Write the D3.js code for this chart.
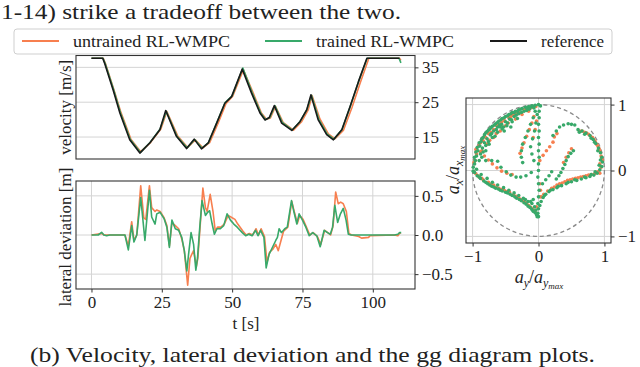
<!DOCTYPE html>
<html>
<head>
<meta charset="utf-8">
<script src="https://cdn.jsdelivr.net/npm/d3@7"></script>
<style>
  body { margin: 0; background: #fff; }
  text { font-family: "Liberation Serif", "DejaVu Serif", serif; fill: #222; }
</style>
</head>
<body>
<svg id="fig" width="640" height="367"></svg>
<script>
// ---- DATA ----
// velocity [m/s] over time [s], as [t, v]
const velReference = [[0,37.6],[4,37.6],[4.7,36.1],[7.7,28.5],[10.1,21.9],[13.6,14.2],[17.2,10.4],[20.7,13.3],[24.3,17.1],[26.4,22.6],[30.2,15.2],[33.8,11.7],[36.5,14.4],[39.1,11.6],[41.5,13.3],[44.5,19],[47.4,24.7],[49.8,26.6],[53.6,34.5],[56.9,27.6],[59.9,21.9],[61.7,19.9],[63.2,20.6],[65,24],[67.6,19],[71.2,16.9],[74.1,19.4],[76.5,22.8],[78,27.1],[80.6,19.9],[83.6,15.7],[86,14.2],[89,17.1],[91.9,23.7],[94.9,30.9],[97.9,37.6],[109.5,37.6]];
const velTrained = [[0,37.6],[4.1,37.6],[4.9,36],[7.9,28.5],[10.3,22],[13.8,14.3],[17.4,10.6],[20.9,13.5],[24.4,17.3],[26.6,22.4],[30.4,15.2],[34,11.9],[36.7,14.3],[39.3,11.8],[41.6,13.4],[44.6,19.2],[47.5,24.9],[50,26.8],[53.8,34.8],[57.1,27.8],[60.1,22],[61.9,20],[63.4,20.6],[65.2,24],[67.8,19.2],[71.4,17],[74.2,19.5],[76.6,22.9],[78.2,27],[80.8,20.1],[83.8,15.8],[86.2,14.4],[89.1,17.2],[92,23.8],[95,31],[98,37.6],[109.3,37.6],[110,36.3]];
const velUntrained = [[0,37.6],[4.2,37.6],[5,36],[8,28.5],[10.5,22],[14,14.4],[17.5,10.8],[21,13.4],[24.6,17.2],[26.8,22.3],[30.6,15.4],[34.2,12],[36.9,14.2],[39.6,11.9],[42,13.4],[45,19],[47.8,24.6],[50.2,26.7],[54,34.3],[57.5,27.6],[60.4,21.9],[62.2,20.1],[63.6,20.5],[65.4,23.8],[68.2,19.1],[71.8,17],[74.6,19.3],[77,22.7],[78.4,26.9],[81.2,20.2],[84.2,15.9],[86.6,14.5],[89.6,17],[92.6,23.5],[95.6,30.7],[98.6,37.6],[109.5,37.6],[110,37]];

// lateral deviation [m] over time [s], as [t, d]
const latTrained = [[0,0],[2.4,0],[3.6,0.034],[4.4,0],[5.4,-0.01],[6.5,0],[11.9,0],[13.1,-0.19],[14.3,0.12],[15.1,-0.09],[16.1,0],[17.5,0.48],[19,-0.07],[20.6,0.57],[21.4,0.23],[22.6,0.14],[23.2,0.27],[24.4,0.29],[25.8,0.21],[26.8,0.1],[27.7,-0.16],[28.6,0.19],[29.8,0.08],[31,0.06],[32.1,-0.03],[33,-0.2],[33.9,-0.46],[34.5,-0.25],[35.4,0.03],[36.3,-0.12],[37.1,-0.45],[37.7,-0.29],[38.5,0.1],[39.3,0.44],[40.5,0.25],[41.3,0.29],[42,0.31],[42.9,0.14],[43.7,0.01],[44.6,0.08],[45.8,0.08],[47,0.12],[48.2,0.27],[49.4,0.19],[50.6,0.14],[51.8,0.1],[53.6,0.03],[54.8,-0.01],[55.9,0.01],[57.1,-0.01],[58.3,0.06],[59.2,-0.01],[60.1,0.06],[61.3,-0.03],[62.1,-0.42],[63.1,-0.25],[64.3,-0.16],[65.5,-0.07],[66.1,-0.03],[66.7,0.08],[67.5,0.03],[68.7,0.08],[69.6,0.1],[71.1,0.44],[72,0.29],[73,0.14],[73.8,0.27],[75,0.19],[76.2,0.1],[77.4,-0.01],[78.6,0.03],[80.1,-0.01],[81.3,-0.15],[82.7,0.06],[83.9,0.03],[84.9,0.01],[85.7,0.1],[86.5,0.38],[87.5,0.16],[88.5,0.27],[89.5,0.34],[90.5,0.19],[91.3,0.01],[92.3,0],[95.8,0],[98.2,0],[107.7,0],[108.9,0.01],[109.5,0.03],[110.1,0.03]];
const latUntrained = [[0,0],[3.6,0.02],[4.5,0],[11.9,0],[13.1,-0.14],[14.3,0.17],[15.1,-0.07],[16.1,0],[17.5,0.63],[18.6,0.22],[19.3,0.2],[20.6,0.63],[21.4,0.35],[22.6,0.3],[23.2,0.32],[24.4,0.3],[25.8,0.22],[26.8,0.12],[27.7,-0.14],[28.6,0.16],[29.8,0.12],[31,0.08],[32.1,-0.05],[33,-0.2],[34.2,-0.64],[35,-0.3],[35.6,-0.25],[36.3,-0.2],[37.3,-0.4],[37.8,-0.3],[38.6,0.1],[39.6,0.6],[40.5,0.35],[41.1,0.3],[42.2,0.52],[43.2,0.3],[44,0.05],[44.8,0.1],[46,0.1],[47.2,0.14],[48.6,0.25],[50,0.22],[51,0.2],[52,0.14],[53.8,0.05],[55,0],[56.1,0.02],[57.3,0],[58.5,0.08],[59.4,0],[60.3,0.08],[61.5,-0.02],[62.4,-0.35],[63.3,-0.22],[64.5,-0.18],[65.5,-0.12],[66.4,-0.2],[67.3,-0.08],[68.3,0.05],[69.8,0.1],[71.2,0.43],[72.2,0.28],[73.2,0.15],[74,0.25],[75.2,0.2],[76.4,0.1],[77.6,0],[78.8,0.03],[80.3,-0.02],[81.5,-0.12],[82.9,0.06],[84,0.03],[85,0],[85.9,0.12],[86.8,0.55],[87.7,0.4],[88.6,0.42],[89.5,0.4],[90.6,0.3],[91.5,0.02],[92.5,0],[95,-0.02],[96,-0.04],[98.5,-0.03],[99,-0.01],[107.7,0],[108.9,-0.01],[109.5,0.02],[110,0.03]];

// gg diagram points, as [ay/aymax, ax/axmax]
const ggUntrained = [[-0.96,0.15],[-0.94,0.25],[-0.9,0.38],[-0.84,0.45],[-0.8,0.5],[-0.76,0.56],[-0.68,0.62],[-0.6,0.7],[-0.52,0.76],[-0.45,0.8],[-0.38,0.84],[-0.3,0.88],[-0.22,0.92],[-0.12,0.95],[-0.04,0.97],[-0.86,0.3],[-0.74,0.46],[-0.64,0.56],[-0.55,0.66],[-0.46,0.72],[-0.35,0.78],[-0.25,0.85],[-0.15,0.9],
  [-0.98,0.12],[-0.95,0.32],[-0.88,0.42],[-0.82,0.52],[-0.72,0.58],[-0.64,0.68],[-0.56,0.73],[-0.42,0.82],[-0.33,0.86],[-0.18,0.93],[-0.08,0.96],[-0.78,0.4],[-0.68,0.5],[-0.58,0.6],[-0.5,0.68],
  [-0.07,0.82],[-0.1,0.72],[-0.14,0.62],[-0.18,0.52],[-0.22,0.42],[-0.25,0.34],[-0.28,0.26],[-0.03,0.75],[-0.05,0.62],[-0.08,0.5],
  [-0.88,0.28],[-0.82,0.22],[-0.76,0.16],[-0.7,0.1],[-0.63,0.04],[-0.56,-0.01],[-0.48,-0.04],[-0.4,-0.06],
  [-0.95,-0.05],[-0.9,-0.1],[-0.84,-0.14],[-0.76,-0.18],[-0.68,-0.22],[-0.6,-0.27],[-0.52,-0.3],[-0.44,-0.33],[-0.38,-0.37],[-0.3,-0.41],[-0.24,-0.46],[-0.18,-0.5],[-0.12,-0.56],[-0.07,-0.6],[-0.03,-0.55],
  [-0.98,-0.02],[-0.92,-0.08],[-0.86,-0.12],[-0.72,-0.21],[-0.64,-0.25],[-0.56,-0.29],[-0.48,-0.32],[-0.34,-0.39],[-0.27,-0.44],[-0.21,-0.48],[-0.15,-0.53],[-0.1,-0.58],[-0.05,-0.63],
  [0.02,0.15],[0.07,0.23],[0.12,0.3],[0.17,0.36],[0.22,0.43],[0.24,0.51],[0.28,0.56],
  [0.62,0.6],[0.7,0.58],[0.76,0.55],[0.82,0.5],[0.86,0.44],[0.9,0.37],[0.93,0.3],[0.95,0.22],[0.97,0.15],[0.95,0.05],[0.9,-0.02],
  [0.66,0.6],[0.73,0.57],[0.79,0.52],[0.84,0.47],[0.88,0.4],[0.92,0.33],[0.96,0.18],[0.93,0.1],[0.93,-0.04],
  [0.85,-0.05],[0.76,-0.07],[0.68,-0.09],[0.6,-0.11],[0.52,-0.13],[0.44,-0.15],[0.36,-0.19],[0.28,-0.22],[0.2,-0.27],[0.14,-0.31],[0.08,-0.36],[0.04,-0.4],
  [0.8,-0.06],[0.72,-0.08],[0.64,-0.1],[0.56,-0.12],[0.48,-0.14],[0.4,-0.17],[0.32,-0.2],[0.24,-0.25],
  [0.5,0.33],[0.46,0.27],[0.42,0.2],[0.38,0.12],[0.02,-0.2],[0.03,-0.3],[0.02,-0.4]];
const ggTrained = [[-0.97,0.1],[-0.97,0.2],[-0.95,0.28],[-0.93,0.35],[-0.9,0.42],[-0.86,0.48],[-0.82,0.54],[-0.78,0.59],[-0.74,0.63],[-0.7,0.67],[-0.65,0.71],[-0.6,0.75],[-0.55,0.79],[-0.5,0.82],[-0.45,0.85],[-0.4,0.88],[-0.35,0.9],[-0.3,0.92],[-0.25,0.94],[-0.2,0.96],[-0.15,0.97],[-0.1,0.98],[-0.05,0.99],[0,1.0],[0.03,0.98],
  [-0.99,0.05],[-0.96,0.15],[-0.94,0.22],[-0.92,0.3],[-0.89,0.37],[-0.87,0.44],[-0.84,0.5],[-0.8,0.57],[-0.76,0.61],[-0.72,0.65],[-0.67,0.69],[-0.62,0.73],[-0.57,0.77],[-0.52,0.8],[-0.47,0.83],[-0.42,0.86],[-0.37,0.88],[-0.32,0.9],[-0.27,0.93],[-0.17,0.95],[-0.12,0.96],[-0.08,0.97],
  [-0.9,0.15],[-0.88,0.25],[-0.85,0.34],[-0.82,0.42],[-0.78,0.48],[-0.73,0.54],[-0.68,0.6],[-0.62,0.66],[-0.56,0.7],[-0.5,0.74],[-0.44,0.78],[-0.37,0.82],[-0.3,0.86],[-0.22,0.9],[-0.14,0.93],[-0.07,0.95],
  [-0.86,0.2],[-0.84,0.28],[-0.8,0.38],[-0.76,0.44],[-0.71,0.56],[-0.64,0.62],[-0.59,0.69],[-0.53,0.66],[-0.47,0.72],[-0.41,0.77],[-0.34,0.84],[-0.26,0.88],[-0.18,0.91],
  [-0.8,0.3],[-0.75,0.4],[-0.7,0.5],[-0.62,0.58],[-0.55,0.63],[-0.48,0.68],[-0.4,0.74],[-0.32,0.79],[-0.66,0.52],[-0.58,0.66],[-0.52,0.6],[-0.42,0.66],
  [-0.05,0.9],[-0.08,0.8],[-0.12,0.7],[-0.16,0.6],[-0.2,0.5],[-0.24,0.4],[-0.26,0.3],[-0.26,0.2],[-0.24,0.12],
  [-0.02,0.85],[-0.04,0.72],[-0.06,0.6],[-0.09,0.48],[-0.12,0.36],[-0.1,0.25],[-0.07,0.15],
  [0.01,0.9],[0.01,0.8],[0,0.7],[0.01,0.6],[0,0.5],[0.01,0.4],[0,0.3],[0.01,0.2],[0,0.1],[0,0],[-0.01,-0.1],[0,-0.2],[0.01,-0.3],[0,-0.4],[-0.01,-0.5],[0,-0.58],[-0.01,-0.65],[0,-0.7],
  [-0.8,0.15],[-0.71,0.15],[-0.62,0.14],[-0.57,0.05],[-0.49,-0.02],[-0.42,-0.07],[-0.34,-0.1],[-0.27,-0.1],[-0.19,-0.08],[-0.11,-0.03],
  [-0.97,-0.03],[-0.93,-0.08],[-0.88,-0.12],[-0.83,-0.16],[-0.77,-0.2],[-0.71,-0.24],[-0.65,-0.27],[-0.58,-0.3],[-0.5,-0.33],[-0.43,-0.36],[-0.36,-0.4],[-0.29,-0.44],[-0.22,-0.49],[-0.16,-0.54],[-0.1,-0.59],[-0.05,-0.64],[-0.02,-0.7],
  [-0.94,0.02],[-0.87,-0.06],[-0.78,-0.12],[-0.7,-0.18],[-0.62,-0.22],[-0.53,-0.26],[-0.45,-0.3],[-0.37,-0.34],[-0.3,-0.38],[-0.23,-0.42],[-0.16,-0.47],[-0.1,-0.5],[-0.06,-0.55],[-0.08,-0.44],[-0.04,-0.6],
  [-0.99,-0.01],[-0.9,-0.1],[-0.8,-0.18],[-0.74,-0.22],[-0.68,-0.25],[-0.61,-0.28],[-0.55,-0.31],[-0.47,-0.34],[-0.4,-0.38],[-0.33,-0.42],[-0.26,-0.46],[-0.19,-0.51],[-0.13,-0.56],[-0.08,-0.62],[-0.03,-0.67],[-0.12,-0.47],[-0.2,-0.44],
  [0.6,0.62],[0.66,0.6],[0.72,0.57],[0.78,0.53],[0.83,0.47],[0.87,0.41],[0.91,0.34],[0.94,0.27],[0.96,0.2],[0.97,0.13],[0.96,0.06],[0.93,0.01],[0.89,-0.04],
  [0.62,0.58],[0.7,0.55],[0.8,0.49],[0.85,0.43],[0.9,0.3],[0.94,0.16],[0.92,0.08],[0.86,-0.02],
  [0.84,-0.07],[0.78,-0.09],[0.72,-0.11],[0.65,-0.13],[0.58,-0.15],[0.5,-0.17],[0.42,-0.2],[0.35,-0.23],[0.28,-0.26],[0.22,-0.29],[0.16,-0.32],[0.11,-0.36],[0.07,-0.41],[0.04,-0.47],[0.02,-0.53],
  [0.8,-0.06],[0.7,-0.1],[0.55,-0.14],[0.45,-0.18],[0.3,-0.24],[0.18,-0.3],[0.09,-0.38],
  [0.22,0.53],[0.27,0.6],[0.32,0.66],[0.38,0.69],[0.45,0.71],[0.5,0.7],[0.55,0.69],
  [0.53,0.3],[0.49,0.26],[0.45,0.21],[0.42,0.15],[0.4,0.09],[0.37,0.03],[0.34,-0.03],[0.31,-0.08],[0.27,-0.13],
  [0.06,-0.2],[0.11,-0.14],[0.16,-0.08],[0.2,-0.02]];

// ticks
const timeTicks = [0, 25, 50, 75, 100];
const velTicks = [15, 25, 35];
const latTicks = [-0.5, 0, 0.5];
const ggTicks = [-1, 0, 1];

const colUntrained = "#f77f4f";
const colTrained = "#38a96a";
const colRef = "#1a1a1a";
const serif = "'Liberation Serif', 'DejaVu Serif', serif";

// ---- SCALES ----
const svg = d3.select("#fig");
svg.append("rect").attr("width", 640).attr("height", 367).attr("fill", "#fff");

const x = d3.scaleLinear().domain([-5.5, 115]).range([76, 415]);
const yVel = d3.scaleLinear().domain([8.7, 38.4]).range([159, 55.5]);
const yLat = d3.scaleLinear().domain([-0.69, 0.69]).range([289, 181]);
const gx = d3.scaleLinear().domain([-1.1, 1.1]).range([466, 611]);
const gy = d3.scaleLinear().domain([-1.1, 1.1]).range([243, 98]);

const minus = v => String(v).replace("-", "\u2212");

function clip(id, xs, ys) {
  svg.append("clipPath").attr("id", id).append("rect")
    .attr("x", xs.range()[0]).attr("y", ys.range()[1])
    .attr("width", xs.range()[1] - xs.range()[0])
    .attr("height", ys.range()[0] - ys.range()[1]);
}
clip("cVel", x, yVel);
clip("cLat", x, yLat);
clip("cGg", gx, gy);

function hGrid(ticks, xs, ys) {
  svg.append("g").selectAll("line").data(ticks).enter().append("line")
    .attr("x1", xs.range()[0]).attr("x2", xs.range()[1])
    .attr("y1", d => ys(d)).attr("y2", d => ys(d))
    .attr("stroke", "#d4d4d4").attr("stroke-width", 1);
}
function vGrid(ticks, xs, ys) {
  svg.append("g").selectAll("line").data(ticks).enter().append("line")
    .attr("y1", ys.range()[0]).attr("y2", ys.range()[1])
    .attr("x1", d => xs(d)).attr("x2", d => xs(d))
    .attr("stroke", "#d4d4d4").attr("stroke-width", 1);
}
function frame(xs, ys) {
  svg.append("rect")
    .attr("x", xs.range()[0]).attr("y", ys.range()[1])
    .attr("width", xs.range()[1] - xs.range()[0])
    .attr("height", ys.range()[0] - ys.range()[1])
    .attr("fill", "none").attr("stroke", "#333").attr("stroke-width", 1.1);
}
function styleAxis(g) {
  g.attr("font-family", null).attr("font-size", null);
  g.select(".domain").remove();
  g.selectAll(".tick line").attr("stroke", "#333");
  g.selectAll(".tick text").attr("fill", "#222")
    .style("font-family", serif).style("font-size", "17px");
}

// ---- VELOCITY PLOT ----
hGrid(velTicks, x, yVel);
const lineVel = d3.line().x(d => x(d[0])).y(d => yVel(d[1]));
const gVel = svg.append("g").attr("clip-path", "url(#cVel)");
[[velUntrained, colUntrained], [velTrained, colTrained], [velReference, colRef]].forEach(([data, c]) => {
  gVel.append("path").datum(data).attr("d", lineVel)
    .attr("fill", "none").attr("stroke", c).attr("stroke-width", 1.6)
    .attr("stroke-linejoin", "round");
});
frame(x, yVel);
svg.append("g").attr("transform", "translate(415,0)")
  .call(d3.axisRight(yVel).tickValues(velTicks).tickSize(3.5).tickPadding(3.5))
  .call(styleAxis);

// ---- LATERAL DEVIATION PLOT ----
hGrid(latTicks, x, yLat);
vGrid(timeTicks, x, yLat);
const lineLat = d3.line().x(d => x(d[0])).y(d => yLat(d[1]));
const gLat = svg.append("g").attr("clip-path", "url(#cLat)");
[[latUntrained, colUntrained], [latTrained, colTrained]].forEach(([data, c]) => {
  gLat.append("path").datum(data).attr("d", lineLat)
    .attr("fill", "none").attr("stroke", c).attr("stroke-width", 1.6)
    .attr("stroke-linejoin", "round");
});
frame(x, yLat);
svg.append("g").attr("transform", "translate(415,0)")
  .call(d3.axisRight(yLat).tickValues(latTicks).tickSize(3.5).tickPadding(3.5)
    .tickFormat(d => minus(d3.format(".1f")(d))))
  .call(styleAxis);
svg.append("g").attr("transform", "translate(0,289)")
  .call(d3.axisBottom(x).tickValues(timeTicks).tickSize(3.5).tickPadding(3))
  .call(styleAxis);

// ---- GG DIAGRAM ----
hGrid(ggTicks, gx, gy);
vGrid(ggTicks, gx, gy);
svg.append("circle").attr("cx", gx(0)).attr("cy", gy(0))
  .attr("r", gx(1) - gx(0)).attr("fill", "none")
  .attr("stroke", "#8a8a8a").attr("stroke-width", 1.3).attr("stroke-dasharray", "4,3");
const gGg = svg.append("g").attr("clip-path", "url(#cGg)");
[[ggUntrained, colUntrained], [ggTrained, colTrained]].forEach(([data, c]) => {
  gGg.append("g").selectAll("circle").data(data).enter().append("circle")
    .attr("cx", d => gx(d[0])).attr("cy", d => gy(d[1])).attr("r", 1.8)
    .attr("fill", c);
});
frame(gx, gy);
svg.append("g").attr("transform", "translate(611,0)")
  .call(d3.axisRight(gy).tickValues(ggTicks).tickSize(3.5).tickPadding(3.5).tickFormat(minus))
  .call(styleAxis);
svg.append("g").attr("transform", "translate(0,243)")
  .call(d3.axisBottom(gx).tickValues(ggTicks).tickSize(3.5).tickPadding(3).tickFormat(minus))
  .call(styleAxis);

// ---- AXIS LABELS ----
svg.append("text").attr("transform", `translate(71,${(55.5 + 159) / 2}) rotate(-90)`)
  .attr("text-anchor", "middle").attr("font-size", 17).text("velocity [m/s]");
svg.append("text").attr("transform", `translate(71,237) rotate(-90)`)
  .attr("text-anchor", "middle").attr("font-size", 17).text("lateral deviation [m]");
svg.append("text").attr("x", 246).attr("y", 329)
  .attr("text-anchor", "middle").attr("font-size", 17).text("t [s]");

function ratioLabel(el, sub) {
  el.append("tspan").attr("font-style", "italic").text("a");
  el.append("tspan").attr("font-style", "italic").attr("font-size", 12).attr("dy", 4).text(sub);
  el.append("tspan").attr("dy", -4).text("/");
  el.append("tspan").attr("font-style", "italic").text("a");
  el.append("tspan").attr("font-style", "italic").attr("font-size", 12).attr("dy", 4).text(sub);
  el.append("tspan").attr("font-style", "italic").attr("font-size", 9).attr("dy", 2).text("max");
}
ratioLabel(svg.append("text").attr("x", 539).attr("y", 283)
  .attr("text-anchor", "middle").attr("font-size", 18), "y");
ratioLabel(svg.append("text").attr("transform", `translate(459,170) rotate(-90)`)
  .attr("text-anchor", "middle").attr("font-size", 18), "x");

// ---- LEGEND ----
svg.append("rect").attr("x", 14).attr("y", 29).attr("width", 598).attr("height", 25)
  .attr("rx", 3).attr("fill", "#fff").attr("fill-opacity", 0.85)
  .attr("stroke", "#cfcfcf").attr("stroke-width", 1);
const legendItems = [
  { label: "untrained RL-WMPC", color: colUntrained, x: 22, w: 157 },
  { label: "trained RL-WMPC", color: colTrained, x: 265, w: 138 },
  { label: "reference", color: colRef, x: 490, w: 63 }
];
const legend = svg.selectAll(".legend").data(legendItems).enter().append("g")
  .attr("class", "legend").attr("transform", d => `translate(${d.x},41)`);
legend.append("line").attr("x1", 0).attr("x2", 37).attr("stroke", d => d.color).attr("stroke-width", 1.8);
legend.append("text").attr("x", 51).attr("y", 5.5).attr("font-size", 17)
  .attr("textLength", d => d.w).attr("lengthAdjust", "spacingAndGlyphs").text(d => d.label);

// ---- SURROUNDING PAPER TEXT ----
svg.append("text").attr("x", 1).attr("y", 19).attr("font-size", 21)
  .attr("textLength", 400).attr("lengthAdjust", "spacingAndGlyphs")
  .text("1-14) strike a tradeoff between the two.");
svg.append("text").attr("x", 30).attr("y", 362).attr("font-size", 22)
  .attr("textLength", 565).attr("lengthAdjust", "spacingAndGlyphs")
  .text("(b) Velocity, lateral deviation and the gg diagram plots.");
</script>
</body>
</html>
